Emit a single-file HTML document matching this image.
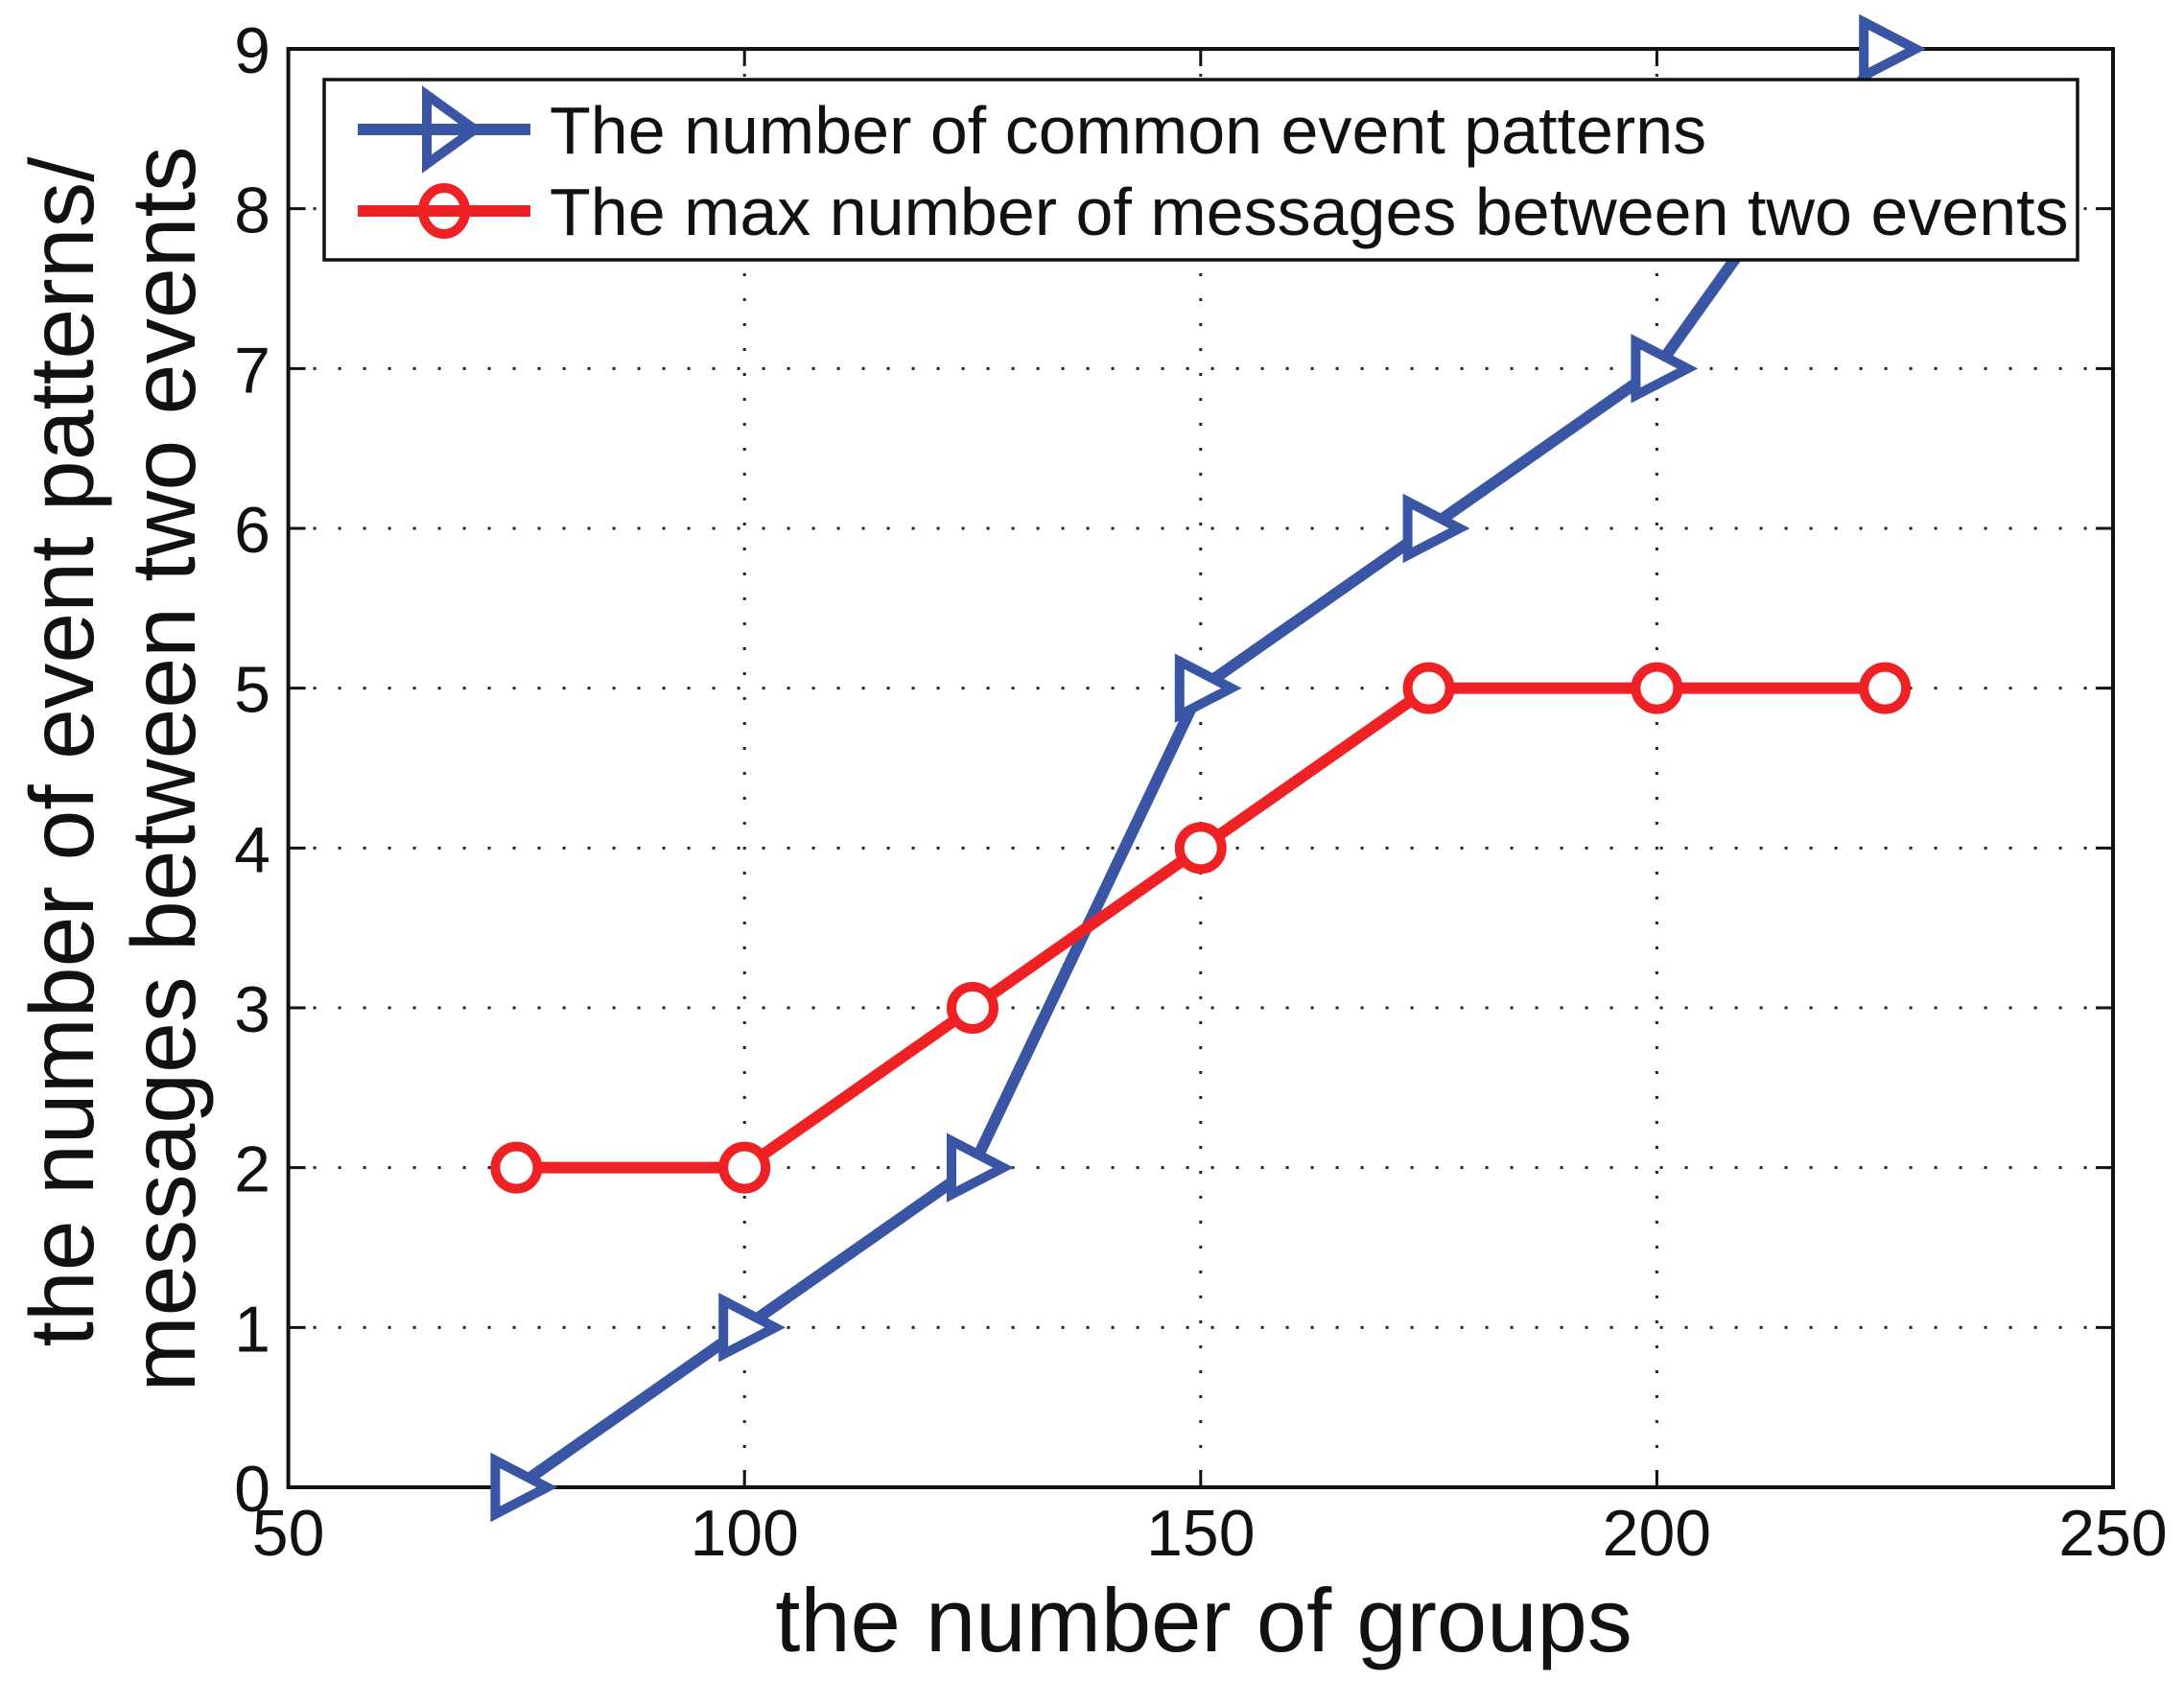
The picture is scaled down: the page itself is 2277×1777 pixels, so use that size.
<!DOCTYPE html>
<html><head><meta charset="utf-8"><style>
html,body{margin:0;padding:0;background:#fff;}
svg{display:block;font-family:"Liberation Sans",Arial,sans-serif;}
</style></head><body>
<svg id="chart" width="2277" height="1777" viewBox="0 0 2277 1777">
<g id="grid"></g>
<g id="axes"></g>
<g id="series"></g>
<text x="1255" y="1722" font-size="94" text-anchor="middle" fill="#111">the number of groups</text>
<text transform="translate(97,784) rotate(-90)" font-size="95" text-anchor="middle" fill="#111">the number of event patterns/</text>
<text transform="translate(203,802) rotate(-90)" font-size="95" text-anchor="middle" fill="#111">messages between two events</text>
<g>
<rect x="338" y="83" width="1828" height="188" fill="#fff" stroke="#111" stroke-width="3.5"/>
<g>
<line x1="373" y1="135" x2="553" y2="135" stroke="#3a55a4" stroke-width="12"/>
<polygon points="445,99 495,135 445,171" fill="none" stroke="#3a55a4" stroke-width="10"/>
<text x="573" y="160" font-size="70" fill="#111">The number of common event patterns</text>
</g>
<g>
<line x1="373" y1="220" x2="553" y2="220" stroke="#ee2225" stroke-width="12"/>
<ellipse cx="463" cy="220" rx="22" ry="24" fill="none" stroke="#ee2225" stroke-width="10"/>
<text x="573" y="245" font-size="70" fill="#111">The max number of messages between two events</text>
</g>
</g>
</svg>
<script>
const xTicks = [50, 100, 150, 200, 250];
const yTicks = [0, 1, 2, 3, 4, 5, 6, 7, 8, 9];
const groups = [75, 100, 125, 150, 175, 200, 225];
const patterns = [0, 1, 2, 5, 6, 7, 9];
const messages = [2, 2, 3, 4, 5, 5, 5];

const L = 300.6, R = 2203, T = 51, B = 1551;
function sx(v){ return L + (v - 50) / 200 * (R - L); }
function sy(v){ return B - v / 9 * (B - T); }
const NS = 'http://www.w3.org/2000/svg';
function mk(tag, attrs, parent){
  const e = document.createElementNS(NS, tag);
  for (const k in attrs) e.setAttribute(k, attrs[k]);
  parent.appendChild(e);
  return e;
}
const grid = document.getElementById('grid');
const axes = document.getElementById('axes');
const series = document.getElementById('series');

xTicks.forEach(v => {
  const x = sx(v);
  if (v > 50 && v < 250) {
    const g = mk('line', {x1:x, y1:T, x2:x, y2:B, stroke:'#222', 'stroke-width':3, 'stroke-dasharray':'3 23'}, grid);
    
    
  }
  mk('line', {x1:x, y1:B, x2:x, y2:B-18, stroke:'#111', 'stroke-width':3}, axes);
  mk('line', {x1:x, y1:T, x2:x, y2:T+18, stroke:'#111', 'stroke-width':3}, axes);
  const t = mk('text', {x:x, y:1622, 'font-size':68, 'text-anchor':'middle', fill:'#111'}, axes);
  t.textContent = v;
  
  
});
yTicks.forEach(v => {
  const y = sy(v);
  if (v > 0 && v < 9) {
    const g = mk('line', {x1:L, y1:y, x2:R, y2:y, stroke:'#222', 'stroke-width':3, 'stroke-dasharray':'3 23'}, grid);
    
    
  }
  mk('line', {x1:L, y1:y, x2:L+18, y2:y, stroke:'#111', 'stroke-width':3}, axes);
  mk('line', {x1:R, y1:y, x2:R-18, y2:y, stroke:'#111', 'stroke-width':3}, axes);
  const t = mk('text', {x:282, y:y+25, 'font-size':68, 'text-anchor':'end', fill:'#111'}, axes);
  t.textContent = v;
  
  
});
const frame = mk('rect', {x:L, y:T, width:R-L, height:B-T, fill:'none', stroke:'#111', 'stroke-width':4}, axes);



function drawSeries(vals, color, kind){
  const pts = groups.map((g,i) => sx(g) + ',' + sy(vals[i])).join(' ');
  const pl = mk('polyline', {points:pts, fill:'none', stroke:color, 'stroke-width':12, 'stroke-linejoin':'miter'}, series);
  
  
  groups.forEach((g,i) => {
    const x = sx(g), y = sy(vals[i]);
    let m;
    if (kind === 'patterns') {
      m = mk('polygon', {points:(x-22)+','+(y-28)+' '+(x+32)+','+y+' '+(x-22)+','+(y+28), fill:'#fff', stroke:color, 'stroke-width':10}, series);
    } else {
      m = mk('circle', {cx:x, cy:y, r:22, fill:'#fff', stroke:color, 'stroke-width':10}, series);
    }
    
    
  });
}
drawSeries(patterns, '#3a55a4', 'patterns');
drawSeries(messages, '#ee2225', 'messages');
</script>
</body></html>
